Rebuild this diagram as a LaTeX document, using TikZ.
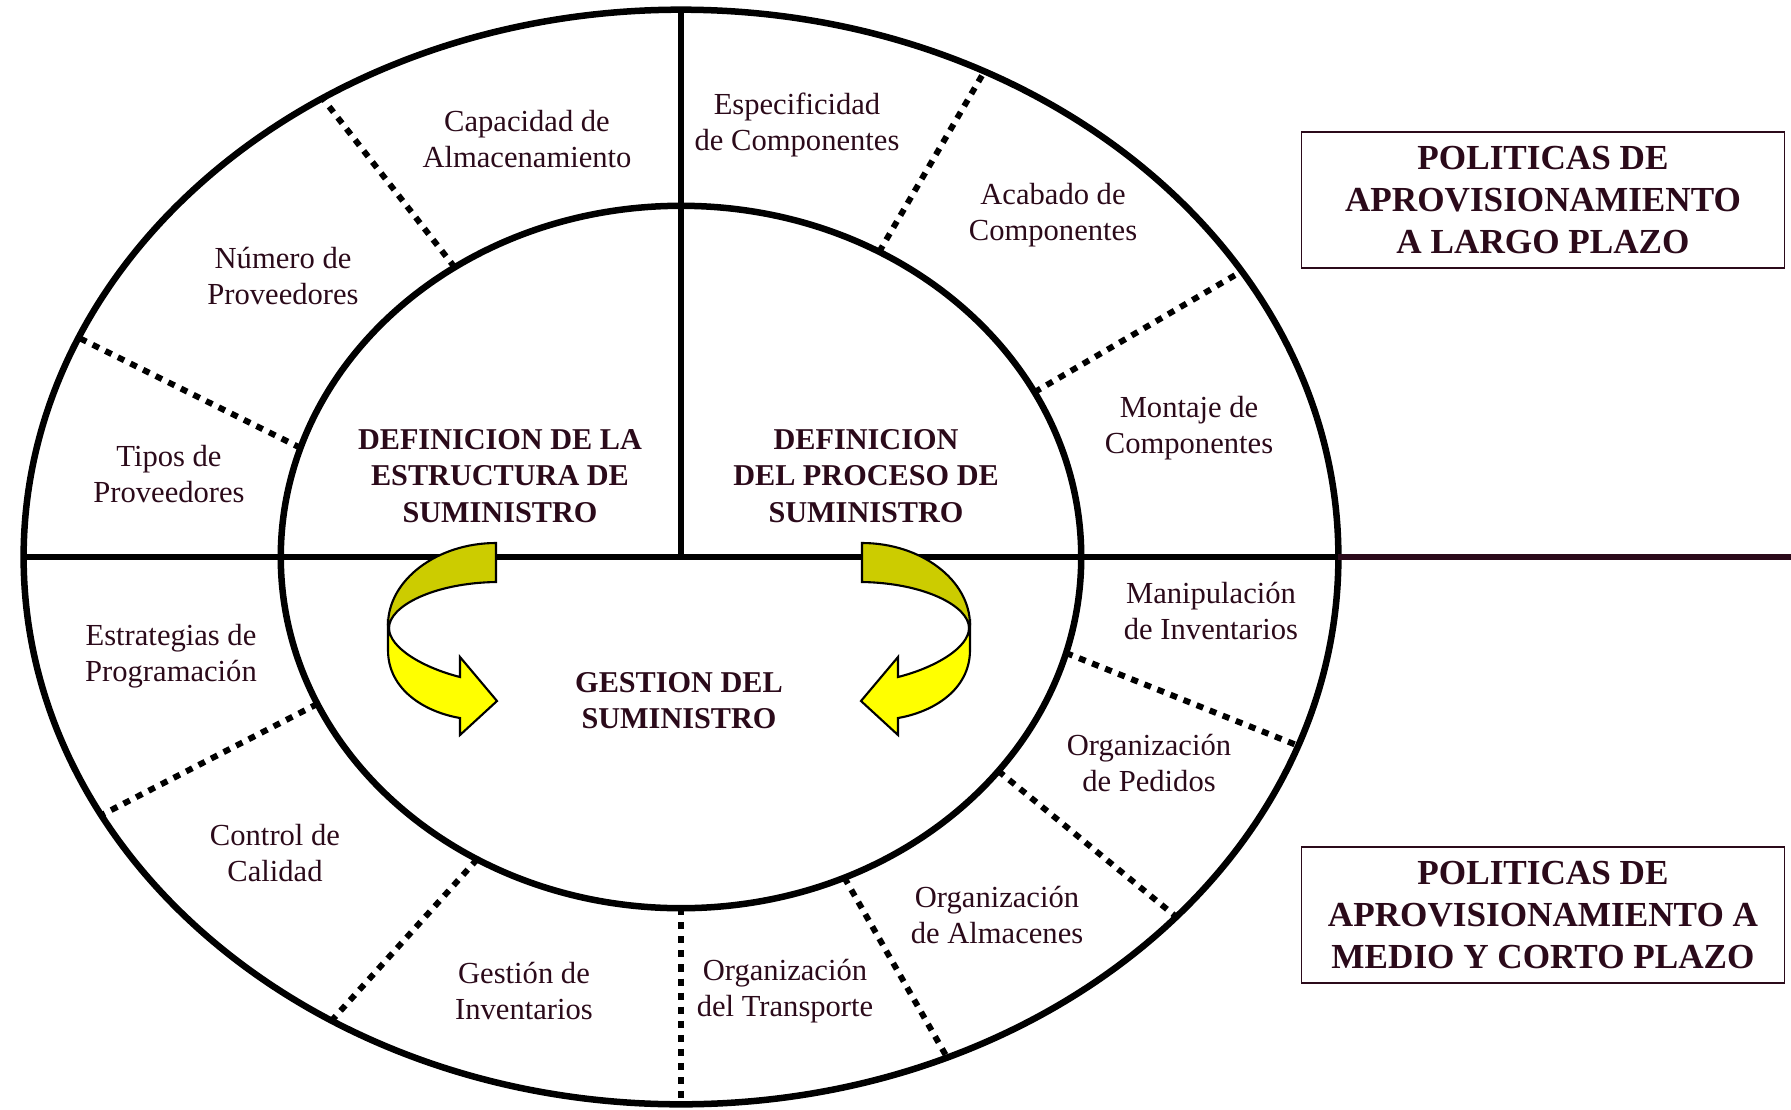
\documentclass[tikz,border=0pt]{standalone}
\usepackage{fontspec}
\setmainfont{Liberation Serif}
\usetikzlibrary{shapes.geometric}

\definecolor{ink}{RGB}{43,10,26}
\definecolor{ribbonback}{RGB}{204,204,0}
\definecolor{ribbonfront}{RGB}{255,255,0}

\tikzset{
  rim/.style={draw=black,line width=1.85pt,ellipse,inner sep=0pt,outer sep=0pt},
  sep/.style={black,line width=1.7pt,dash pattern=on 2pt off 2pt},
  lbl/.style={text=ink,align=center,font=\fontsize{8.7}{10.2}\selectfont},
  hd/.style={text=ink,align=center,font=\fontsize{8.6}{10.3}\selectfont\bfseries},
  policy/.style={draw=ink,line width=0.45pt,minimum width=4.83cm,minimum height=1.36cm,
    text=ink,align=center,font=\fontsize{10}{12}\selectfont\bfseries},
  % curved ribbon arrow, x measured from the axis of the ring
  turn/.pic={
    \draw[ribbonback!100,fill=ribbonback,draw=black,line width=0.6pt]
      (-183,543) .. controls (-242,543) and (-291,580) .. (-291,625)
      -- (-290,628) .. controls (-290,606) and (-245,583) .. (-183,582) -- cycle;
    \draw[fill=ribbonfront,draw=black,line width=0.6pt]
      (-290,628) .. controls (-290,648) and (-255,668) .. (-219,677)
      -- (-219,657) -- (-182,701) -- (-219,735) -- (-219,718)
      .. controls (-254,712) and (-291,690) .. (-291,650) -- (-291,625) -- cycle;
  }
}

\begin{document}
\begin{tikzpicture}[x=0.01cm,y=-0.01cm]
  \useasboundingbox (0,0) rectangle (1791,1109);

  % the two rings
  \node[rim,minimum width=13.14cm,minimum height=10.94cm] (outer) at (681,557) {};
  \node[rim,minimum width=8cm,minimum height=7.02cm] (inner) at (681,557) {};
  \coordinate (edge) at (1791,557);

  \draw[line width=1.85pt] (outer.west) -- (outer.east);
  \draw[line width=1.85pt,ink] (outer.east) -- (edge);
  \draw[line width=1.85pt] (outer.north) -- (outer.center);

  % dotted dividers between the fields
  \foreach \a/\b in {128.6/128.9,164.3/160.5,57.6/58.3,25.7/27.1,346.8/343.2,
                     326.2/324.1,297.5/298.4,270/270,236.5/233.4,202.4/204.4}
    \draw[sep] (inner.\a) -- (outer.\b);

  \pic at (679,0) {turn};
  \pic[xscale=-1] at (679,0) {turn};

  % outer ring
  \node[lbl] (capacidad) at (527,139) {Capacidad de\\Almacenamiento};
  \node[lbl] (numero) at (283,276) {Número de\\Proveedores};
  \node[lbl] (tipos) at (169,474) {Tipos de\\Proveedores};
  \node[lbl] (especif) at (797,125) {Especificidad\\de Componentes};
  \node[lbl] (acabado) at (1053,215) {Acabado de\\Componentes};
  \node[lbl] (montaje) at (1189,428) {Montaje de\\Componentes};
  \node[lbl] (manip) at (1211,611) {Manipulación\\de Inventarios};
  \node[lbl] (pedidos) at (1149,763) {Organización\\de Pedidos};
  \node[lbl] (almacenes) at (997,915) {Organización\\de Almacenes};
  \node[lbl] (transporte) at (785,991) {Organización\\del Transporte};
  \node[lbl] (gestinv) at (524,991) {Gestión de\\Inventarios};
  \node[lbl] (calidad) at (275,853) {Control de\\Calidad};
  \node[lbl] (estrateg) at (171,656) {Estrategias de\\Programación};

  % inner ring
  \node[hd] (estructura) at (500,476) {DEFINICION DE LA\\ESTRUCTURA DE\\SUMINISTRO};
  \node[hd] (proceso) at (866,476) {DEFINICION\\DEL PROCESO DE\\SUMINISTRO};
  \node[hd] (gestion) at (679,701) {GESTION DEL\\SUMINISTRO};

  \node[policy] (largo) at (1543,200) {POLITICAS DE\\APROVISIONAMIENTO\\A LARGO PLAZO};
  \node[policy] (corto) at (1543,915) {POLITICAS DE\\APROVISIONAMIENTO A\\MEDIO Y CORTO PLAZO};
\end{tikzpicture}
\end{document}
